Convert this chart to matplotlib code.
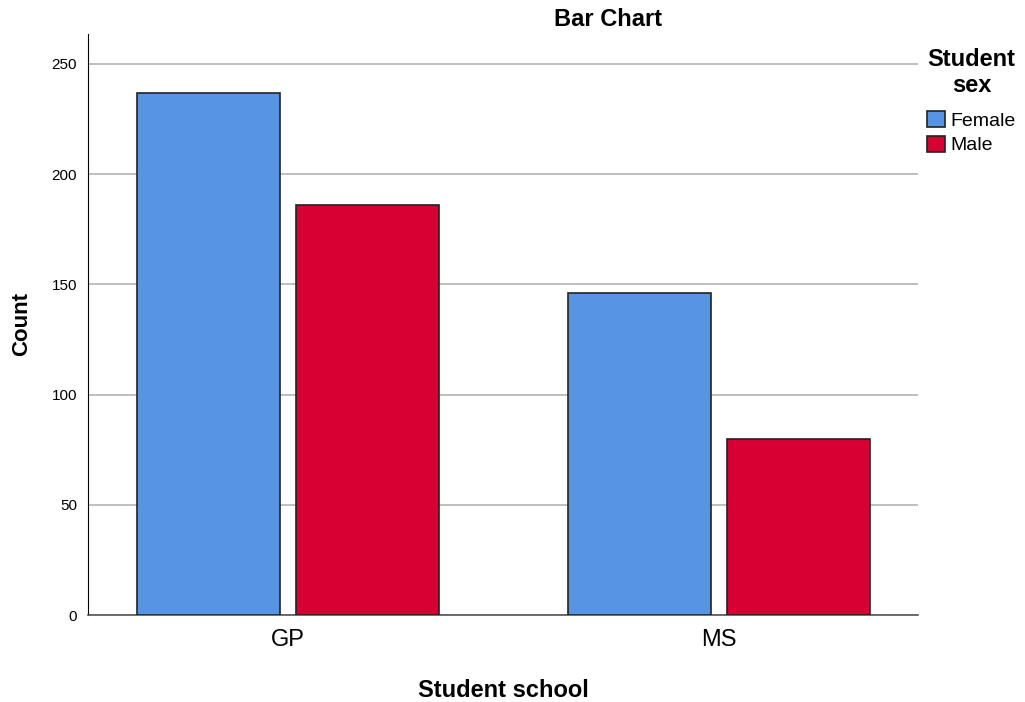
import matplotlib.pyplot as plt
import numpy as np

plt.rcParams['font.family'] = ['Liberation Sans', 'DejaVu Sans']

schools = ['GP', 'MS']
sexes = ['Female', 'Male']
female = [237, 146]
male = [186, 80]
colors = ['#5795e2', '#d70033']

fig = plt.figure(figsize=(10.25, 7.02), dpi=100)
ax = fig.add_axes([0.0859, 0.1239, 0.8097, 0.8277])

x = np.arange(len(schools))
width = 0.332
off = 0.185
ax.bar(x - off, female, width, color=colors[0], edgecolor='#222222', linewidth=1.2, label=sexes[0], zorder=3)
ax.bar(x + off, male, width, color=colors[1], edgecolor='#222222', linewidth=1.2, label=sexes[1], zorder=3)

ax.set_xlim(-0.464, 1.462)
ax.set_ylim(0, 263.6)
ax.set_yticks([0, 50, 100, 150, 200, 250])
ax.set_xticks(x)
ax.set_xticklabels(schools, fontsize=17)
ax.tick_params(axis='y', length=0, labelsize=11, pad=8)
ax.tick_params(axis='x', length=0, pad=10)
ax.yaxis.grid(True, color='#b4b4b4', linewidth=1.2, zorder=0)
ax.set_axisbelow(True)
for s in ['top', 'right']:
    ax.spines[s].set_visible(False)
ax.spines['left'].set_color('black')
ax.spines['bottom'].set_color('#555555')
ax.spines['bottom'].set_linewidth(1.2)

ax.set_ylabel('Count', fontsize=16, fontweight='bold', labelpad=14)
ax.set_xlabel('Student school', fontsize=17, fontweight='bold', labelpad=20)
fig.text(0.593, 0.972, 'Bar Chart', ha='center', va='center', fontsize=17, fontweight='bold')

leg = ax.legend(title='Student\nsex', loc='upper left', bbox_to_anchor=(0.995, 1.0),
                frameon=False, fontsize=14, handlelength=0.9, handleheight=0.9,
                handletextpad=0.3, labelspacing=0.3, borderpad=0.2)
leg.get_title().set_fontsize(17)
leg.get_title().set_fontweight('bold')
leg.get_title().set_multialignment('center')
leg._legend_box.sep = 10

fig.savefig('out.png', dpi=100)
